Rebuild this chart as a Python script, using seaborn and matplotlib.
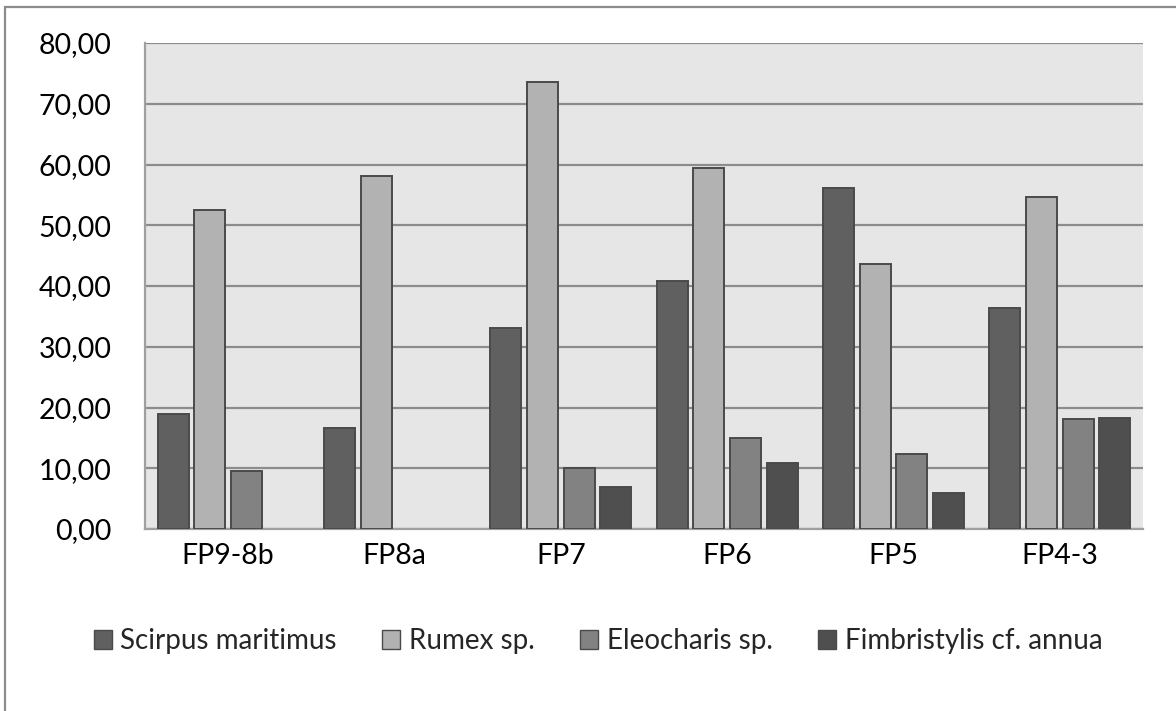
import matplotlib
matplotlib.use("Agg")
import matplotlib.pyplot as plt
import matplotlib.patches as mpatches
import seaborn as sns
import pandas as pd

categories = ["FP9-8b", "FP8a", "FP7", "FP6", "FP5", "FP4-3"]
series_names = ["Scirpus maritimus", "Rumex sp.", "Eleocharis sp.", "Fimbristylis cf. annua"]
scirpus = [18.9, 16.6, 33.1, 40.8, 56.2, 36.4]
rumex = [52.5, 58.1, 73.5, 59.4, 43.6, 54.6]
eleocharis = [9.6, 0.0, 10.1, 14.9, 12.4, 18.1]
fimbristylis = [0.0, 0.0, 6.9, 10.9, 6.0, 18.2]
y_ticks = [0, 10, 20, 30, 40, 50, 60, 70, 80]
colors = ["#606060", "#b2b2b2", "#828282", "#4f4f4f"]

rows = []
for name, vals in zip(series_names, [scirpus, rumex, eleocharis, fimbristylis]):
    for c, v in zip(categories, vals):
        rows.append({"cat": c, "series": name, "value": v})
df = pd.DataFrame(rows)

sns.set_theme(style="white")
plt.rcParams["font.family"] = ["Lato", "DejaVu Sans"]

fig = plt.figure(figsize=(11.76, 7.11), dpi=100)
ax = fig.add_axes([145/1176, 1 - 529/711, (1143-145)/1176, (529-43)/711])
ax.set_facecolor("#e6e6e6")

sns.barplot(data=df, x="cat", y="value", hue="series", order=categories,
            hue_order=series_names, palette=dict(zip(series_names, colors)),
            width=0.88, gap=0.15, edgecolor="#4a4a4a", linewidth=1.4,
            ax=ax, legend=False, zorder=3)

for p in ax.patches:
    if p.get_height() == 0:
        p.set_visible(False)

ax.set_ylim(0, 80)
ax.set_yticks(y_ticks)
ax.set_yticklabels([f"{t:.2f}".replace(".", ",") for t in y_ticks])
ax.set_xlim(-0.5, len(categories) - 0.5)
ax.set_xlabel("")
ax.set_ylabel("")
ax.grid(axis="y", color="#8c8c8c", linewidth=1.6, zorder=0)
ax.set_axisbelow(True)
ax.tick_params(axis="y", length=0, pad=24, labelsize=20.5, colors="black")
ax.tick_params(axis="x", length=0, pad=10, labelsize=20.5, colors="black")
for s in ["top", "right"]:
    ax.spines[s].set_visible(False)
for s in ["left", "bottom"]:
    ax.spines[s].set_color("#a0a0a0")
    ax.spines[s].set_linewidth(1.6)

handles = [mpatches.Patch(facecolor=c, edgecolor="#4a4a4a", linewidth=1.0, label=n)
           for n, c in zip(series_names, colors)]
fig.legend(handles=handles, loc="center", bbox_to_anchor=(598/1176, 1 - 641/711),
           ncol=4, frameon=False, fontsize=20, handlelength=0.65, handleheight=0.65,
           handletextpad=0.3, columnspacing=1.65)

border = mpatches.Rectangle((5/1176, -0.1), 1.2, 1.1 - 7/711, transform=fig.transFigure,
                            fill=False, edgecolor="#8c8c8c", linewidth=1.6)
fig.patches.append(border)

fig.savefig("out.png", dpi=100, facecolor="white")
